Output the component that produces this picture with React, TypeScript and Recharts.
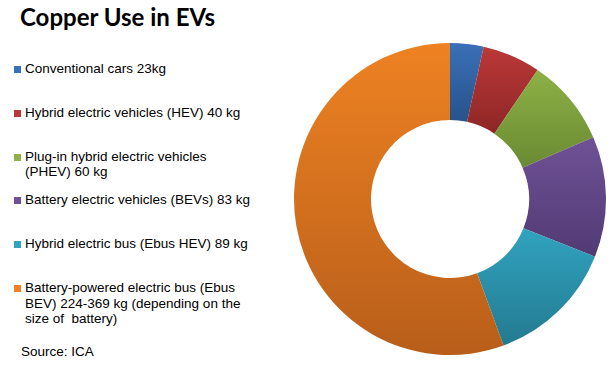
import React from 'react';
import { PieChart, Pie, Cell, Legend } from 'recharts';

const categories = [
  'Conventional cars 23kg',
  'Hybrid electric vehicles (HEV) 40 kg',
  'Plug-in hybrid electric vehicles\n(PHEV) 60 kg',
  'Battery electric vehicles (BEVs) 83 kg',
  'Hybrid electric bus (Ebus HEV) 89 kg',
  'Battery-powered electric bus (Ebus\nBEV) 224-369 kg (depending on the\nsize of  battery)',
];
const copperKg = [23, 40, 60, 83, 89, 369];
const colorsTop = ['#3a70b8', '#bb3838', '#8db146', '#6f5296', '#31a3bf', '#ee8222'];
const colorsBottom = ['#28528a', '#8e2626', '#6a8a32', '#523a74', '#237a90', '#b85e1a'];

const data = categories.map((name, i) => ({ name, value: copperKg[i] }));

const LegendBox = () => (
  <div style={{ position: 'absolute', left: 0, top: 0, width: 290, height: 375, fontFamily: '"Liberation Sans", Arial, sans-serif', fontSize: 13.5, color: '#000' }}>
    {categories.map((c, i) => (
      <div key={c} style={{ position: 'absolute', left: 14, top: 61 + i * 43.8, display: 'flex', alignItems: 'flex-start' }}>
        <span style={{ width: 7, height: 7, marginTop: 5, marginRight: 4, background: colorsTop[i], flex: 'none' }} />
        <span style={{ whiteSpace: 'pre', lineHeight: '15.5px' }}>{c}</span>
      </div>
    ))}
    <div style={{ position: 'absolute', left: 21, top: 344, lineHeight: '15.5px' }}>Source: ICA</div>
  </div>
);

export default function App() {
  return (
    <div style={{ position: 'absolute', left: 0, top: 0, width: 616, height: 375, background: '#fff' }}>
      <div style={{ position: 'absolute', left: 20, top: 2, fontFamily: 'Lato, "Open Sans", sans-serif', fontWeight: 700, fontSize: 24, lineHeight: '30px', color: '#000' }}>
        Copper Use in EVs
      </div>
      <div style={{ position: 'absolute', left: 0, top: 0 }}>
        <PieChart width={616} height={375}>
          <defs>
            {colorsTop.map((c, i) => (
              <linearGradient key={i} id={`g${i}`} x1="0" y1="0" x2="0" y2="1">
                <stop offset="0%" stopColor={c} />
                <stop offset="100%" stopColor={colorsBottom[i]} />
              </linearGradient>
            ))}
          </defs>
          <Pie
            data={data}
            dataKey="value"
            nameKey="name"
            cx={445}
            cy={194}
            innerRadius={79}
            outerRadius={156}
            startAngle={90}
            endAngle={-270}
            stroke="none"
            isAnimationActive={false}
          >
            {data.map((d, i) => (
              <Cell key={d.name} fill={`url(#g${i})`} />
            ))}
          </Pie>
          <Legend content={() => null} />
        </PieChart>
      </div>
      <LegendBox />
    </div>
  );
}
